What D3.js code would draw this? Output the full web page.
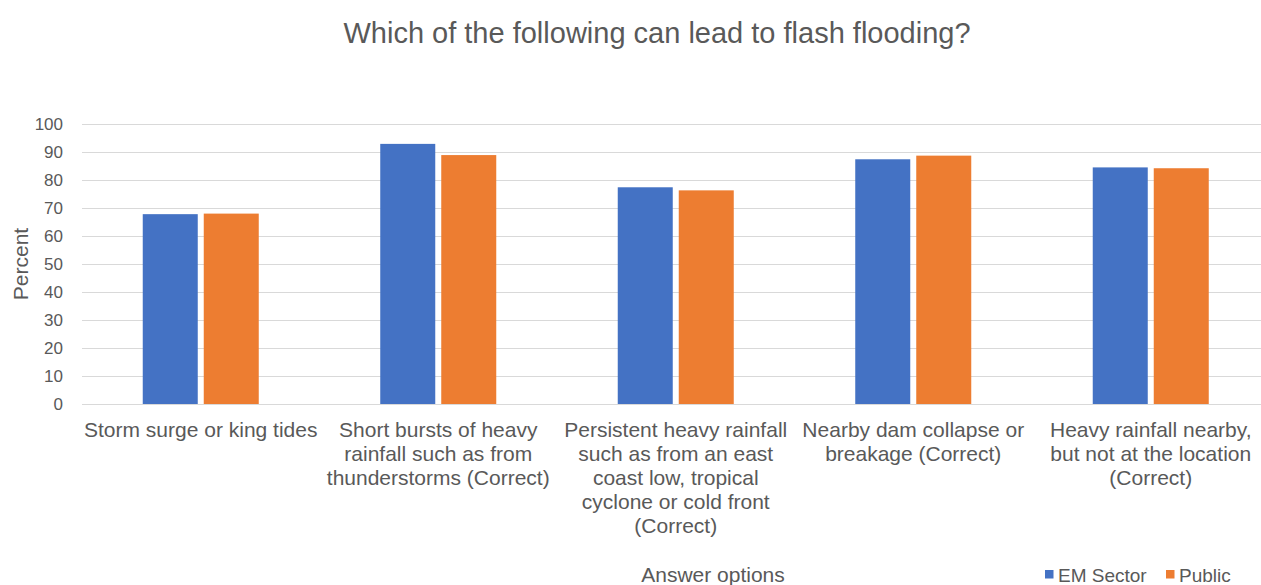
<!DOCTYPE html>
<html>
<head>
<meta charset="utf-8">
<script src="https://cdn.jsdelivr.net/npm/d3@7/dist/d3.min.js"></script>
<style>
  html, body { margin: 0; padding: 0; background: #ffffff; }
  svg { display: block; font-family: "Liberation Sans", Arial, sans-serif; }
</style>
</head>
<body>
<svg id="chart" width="1261" height="585"></svg>
<script>
// Answer options, each split into the lines shown under the axis
const categoryLines = [
  ["Storm surge or king tides"],
  ["Short bursts of heavy", "rainfall such as from", "thunderstorms (Correct)"],
  ["Persistent heavy rainfall", "such as from an east", "coast low, tropical", "cyclone or cold front", "(Correct)"],
  ["Nearby dam collapse or", "breakage (Correct)"],
  ["Heavy rainfall nearby,", "but not at the location", "(Correct)"]
];
const categories = categoryLines.map(l => l.join(" "));

const seriesNames = ["EM Sector", "Public"];
const emSector = [67.8, 92.9, 77.4, 87.4, 84.5];
const publicVals = [68.0, 88.9, 76.3, 88.7, 84.2];
const yTicks = [0, 10, 20, 30, 40, 50, 60, 70, 80, 90, 100];

const colors = { "EM Sector": "#4472C4", "Public": "#ED7D31" };
const textColor = "#595959";
const gridColor = "#d9d9d9";

const svg = d3.select("#chart");

const plot = { left: 82, right: 1269.5, top: 124, bottom: 404 };

const x0 = d3.scaleBand()
  .domain(categories)
  .range([plot.left, plot.right])
  .padding(0);

const x1 = d3.scaleBand()
  .domain(seriesNames)
  .range([0, x0.bandwidth()])
  .paddingInner(0.0984)
  .paddingOuter(0.9957);

const y = d3.scaleLinear()
  .domain([0, 100])
  .range([plot.bottom, plot.top]);

// Horizontal gridlines
svg.append("g")
  .selectAll("line")
  .data(yTicks)
  .join("line")
  .attr("x1", plot.left)
  .attr("x2", plot.right)
  .attr("y1", d => Math.round(y(d)) + 0.5)
  .attr("y2", d => Math.round(y(d)) + 0.5)
  .attr("stroke", gridColor)
  .attr("stroke-width", 1);

// Y axis labels
const yAxis = d3.axisLeft(y).tickValues(yTicks).tickSize(0).tickPadding(0);
const yg = svg.append("g")
  .attr("transform", `translate(${plot.left - 19},0)`)
  .call(yAxis);
yg.select(".domain").remove();
yg.selectAll("text")
  .attr("fill", textColor)
  .attr("font-size", 17)
  .attr("font-family", "Liberation Sans, Arial, sans-serif");

// Bars
const rows = categories.map((c, i) => ({ cat: c, values: [
  { key: "EM Sector", value: emSector[i] },
  { key: "Public", value: publicVals[i] }
]}));

svg.append("g")
  .selectAll("g")
  .data(rows)
  .join("g")
  .attr("transform", d => `translate(${x0(d.cat)},0)`)
  .selectAll("rect")
  .data(d => d.values)
  .join("rect")
  .attr("x", d => x1(d.key))
  .attr("width", x1.bandwidth())
  .attr("y", d => y(d.value))
  .attr("height", d => y(0) - y(d.value))
  .attr("fill", d => colors[d.key]);

// Category labels
const xLab = svg.append("g");
categoryLines.forEach((lines, i) => {
  const cx = x0(categories[i]) + x0.bandwidth() / 2;
  const t = xLab.append("text")
    .attr("text-anchor", "middle")
    .attr("fill", textColor)
    .attr("font-size", 21);
  lines.forEach((ln, j) => {
    t.append("tspan")
      .attr("x", cx)
      .attr("y", 437 + j * 24)
      .text(ln);
  });
});

// Title
svg.append("text")
  .attr("x", 657)
  .attr("y", 43)
  .attr("text-anchor", "middle")
  .attr("fill", textColor)
  .attr("font-size", 29)
  .text("Which of the following can lead to flash flooding?");

// Axis titles
svg.append("text")
  .attr("transform", `translate(28,264) rotate(-90)`)
  .attr("text-anchor", "middle")
  .attr("fill", textColor)
  .attr("font-size", 21)
  .text("Percent");

svg.append("text")
  .attr("x", 713)
  .attr("y", 582)
  .attr("text-anchor", "middle")
  .attr("fill", textColor)
  .attr("font-size", 21)
  .text("Answer options");

// Legend
const legendPos = [1045, 1166];
const legend = svg.append("g");
seriesNames.forEach((name, i) => {
  legend.append("rect")
    .attr("x", legendPos[i])
    .attr("y", 570)
    .attr("width", 8.5)
    .attr("height", 8.5)
    .attr("fill", colors[name]);
  legend.append("text")
    .attr("x", legendPos[i] + 13)
    .attr("y", 582)
    .attr("fill", textColor)
    .attr("font-size", 19)
    .text(name);
});
</script>
</body>
</html>
